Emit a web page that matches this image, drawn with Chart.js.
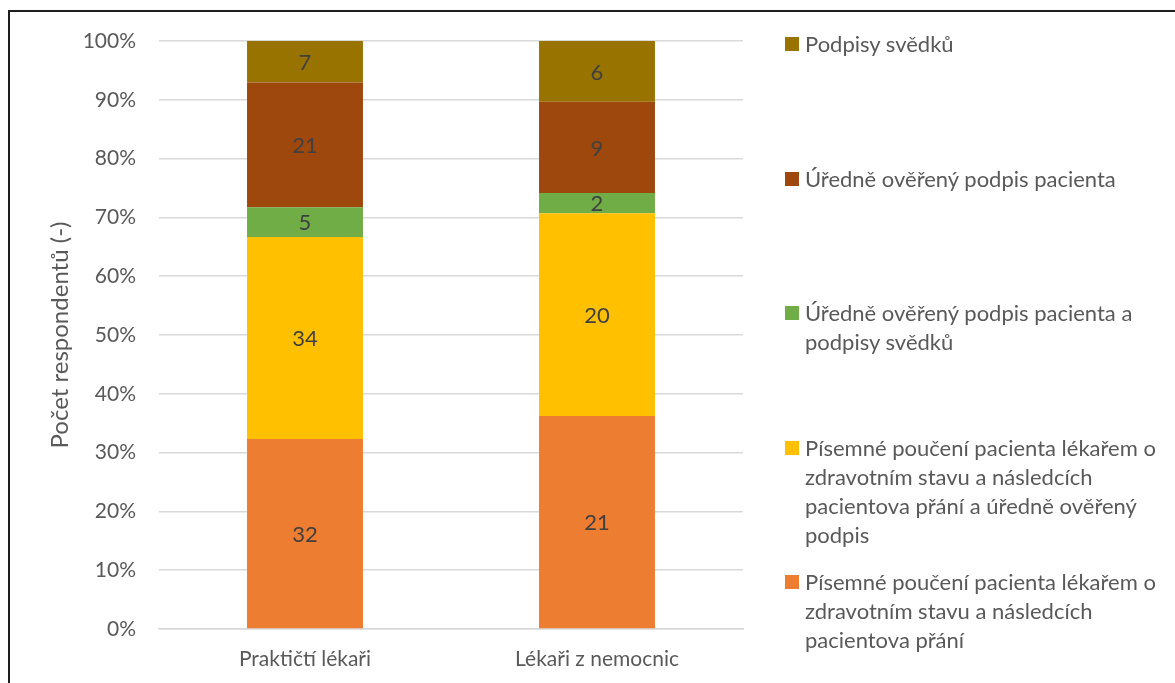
<!DOCTYPE html>
<html lang="cs">
<head>
<meta charset="UTF-8">
<title>Počet respondentů</title>
<script src="https://cdn.jsdelivr.net/npm/chart.js"></script>
<style>
  body { margin:0; width:1175px; height:683px; overflow:hidden; background:#fff; position:relative; font-family:Lato, sans-serif; }
  #frame { position:absolute; left:8px; top:10px; width:1300px; height:800px; border:2px solid #1e1e1e; box-sizing:border-box; }
  #myChart { position:absolute; left:0; top:0; }
  #legend { position:absolute; left:0; top:0; }
  .lg-item { position:absolute; left:785px; color:#595959; font-size:22px; line-height:29px; }
  .lg-box { position:absolute; left:0; top:8px; width:14px; height:14px; }
  .lg-text { position:absolute; left:20px; top:0; white-space:nowrap; }
</style>
</head>
<body>
<div id="frame"></div>
<canvas id="myChart" width="1175" height="683"></canvas>
<div id="legend"></div>

<script>
    // kategorie (osa x)
    const categories = ['Praktičtí lékaři', 'Lékaři z nemocnic'];

    // počty respondentů, od spodu sloupce nahoru
    const pisemnePouceni        = [32, 21];
    const pouceniAOverenyPodpis = [34, 20];
    const overenyPodpisASvedci  = [5, 2];
    const overenyPodpis         = [21, 9];
    const podpisySvedku         = [7, 6];

    // názvy řad (po řádcích, jak jsou v legendě)
    const seriesNames = [
        ['Písemné poučení pacienta lékařem o', 'zdravotním stavu a následcích', 'pacientova přání'],
        ['Písemné poučení pacienta lékařem o', 'zdravotním stavu a následcích', 'pacientova přání a úředně ověřený', 'podpis'],
        ['Úředně ověřený podpis pacienta a', 'podpisy svědků'],
        ['Úředně ověřený podpis pacienta'],
        ['Podpisy svědků']
    ];
    const seriesColors = ['#ED7D31', '#FFC000', '#70AD47', '#9E480E', '#997300'];

    const yTicks = [0, 10, 20, 30, 40, 50, 60, 70, 80, 90, 100];

    const seriesCounts = [pisemnePouceni, pouceniAOverenyPodpis, overenyPodpisASvedci, overenyPodpis, podpisySvedku];

    // součty za kategorii -> procenta
    const totals = categories.map((c, i) => seriesCounts.reduce((acc, s) => acc + s[i], 0));

    const datasets = seriesCounts.map((counts, k) => ({
        label: seriesNames[k].join(' '),
        data: counts.map((v, i) => v / totals[i] * 100),
        counts: counts,
        backgroundColor: seriesColors[k],
        borderWidth: 0,
        categoryPercentage: 1,
        barPercentage: 0.397
    }));

    // popisky hodnot uprostřed segmentů
    const valueLabels = {
        id: 'valueLabels',
        afterDatasetsDraw(chart) {
            const ctx = chart.ctx;
            ctx.save();
            ctx.font = '22px Lato';
            ctx.fillStyle = '#404040';
            ctx.textAlign = 'center';
            ctx.textBaseline = 'middle';
            chart.data.datasets.forEach((ds, k) => {
                chart.getDatasetMeta(k).data.forEach((bar, i) => {
                    const p = bar.getProps(['x', 'y', 'base'], true);
                    ctx.fillText(String(ds.counts[i]), p.x, (p.y + p.base) / 2 + 1);
                });
            });
            ctx.restore();
        }
    };

    const ctx = document.querySelector('#myChart').getContext('2d');
    const myChart = new Chart(ctx, {
        type: 'bar',
        data: { labels: categories, datasets: datasets },
        options: {
            responsive: false,
            animation: false,
            layout: { padding: { left: 46, right: 432, top: 41, bottom: 0 } },
            plugins: { legend: { display: false }, tooltip: { enabled: false } },
            scales: {
                x: {
                    stacked: true,
                    grid: { display: false, drawTicks: false },
                    border: { display: true, color: '#d9d9d9', width: 1.5 },
                    ticks: { color: '#595959', font: { family: 'Lato', size: 21 }, padding: 18 },
                    afterFit: (scale) => { scale.height = 54; }
                },
                y: {
                    stacked: true,
                    min: 0,
                    max: 100,
                    afterBuildTicks: (scale) => { scale.ticks = yTicks.map(v => ({ value: v })); },
                    grid: { color: '#d9d9d9', lineWidth: 1.5, drawTicks: false },
                    border: { display: false },
                    ticks: { color: '#595959', font: { family: 'Lato', size: 21 }, padding: 23, callback: (v) => v + '%' },
                    title: { display: true, text: 'Počet respondentů (-)', color: '#595959', font: { family: 'Lato', size: 24 }, padding: 0 },
                    afterFit: (scale) => { scale.width = 113; }
                }
            }
        },
        plugins: [valueLabels]
    });

    // legenda vpravo, odshora nejvyšší řada
    const legendEl = document.getElementById('legend');
    const legendTops = [29, 164, 298, 433, 567];
    seriesNames.slice().reverse().forEach((lines, j) => {
        const k = seriesNames.length - 1 - j;
        const item = document.createElement('div');
        item.className = 'lg-item';
        item.style.top = legendTops[j] + 'px';
        item.innerHTML = '<div class="lg-box" style="background:' + seriesColors[k] + '"></div>' +
            '<div class="lg-text">' + lines.join('<br>') + '</div>';
        legendEl.appendChild(item);
    });
</script>
</body>
</html>
